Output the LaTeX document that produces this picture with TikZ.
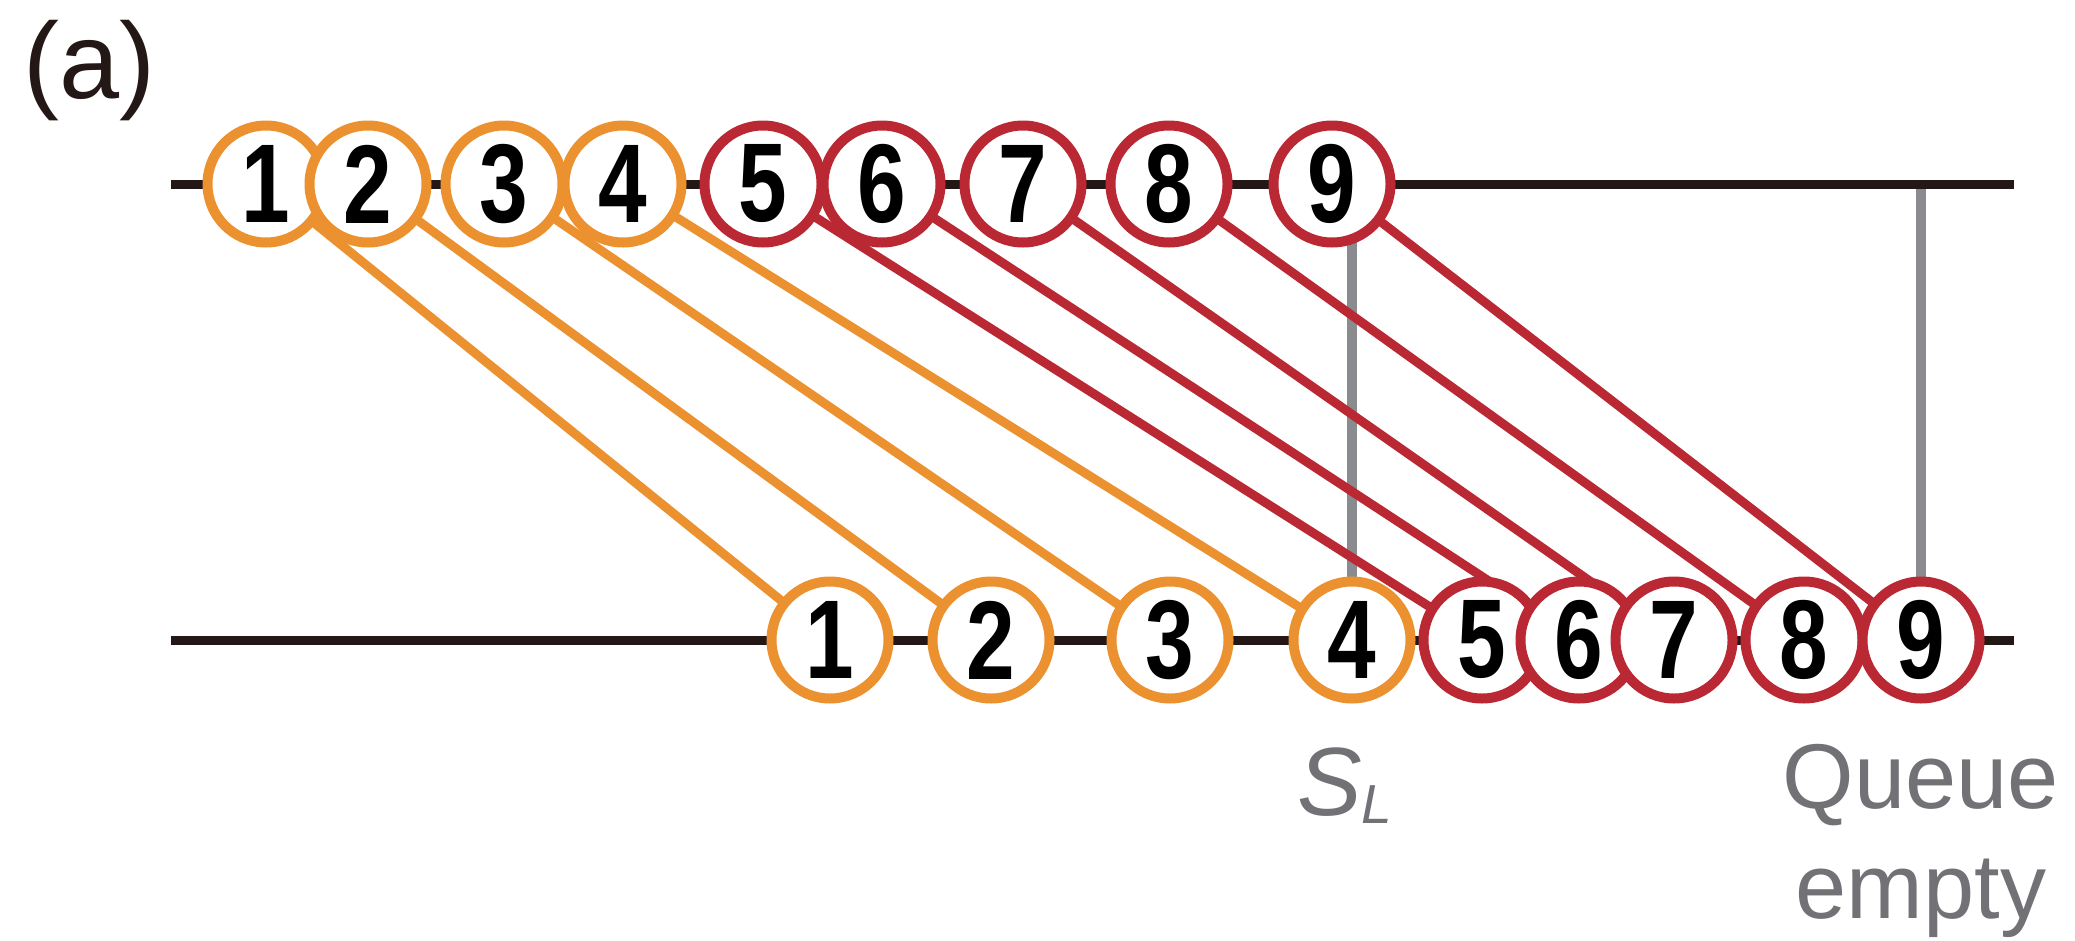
\documentclass[tikz,border=0pt]{standalone}
\usepackage{fontspec}
\setmainfont{Liberation Sans}
\usetikzlibrary{backgrounds}
\definecolor{qorange}{HTML}{EC912F}
\definecolor{qred}{HTML}{B92833}
\definecolor{qblack}{HTML}{231815}
\definecolor{qgray}{HTML}{8A8B8E}
\definecolor{qtext}{HTML}{727175}
\newcommand{\pktnum}[1]{\scalebox{0.78}[1]{#1}}
\begin{document}
\begin{tikzpicture}[x=1pt,y=-1pt,
  pkt/.style={circle, fill=white, line width=10pt, minimum size=117pt, inner sep=0pt,
    font=\fontsize{112}{112}\selectfont\bfseries},
  timeline/.style={qblack, line width=9pt},
  marker/.style={qgray, line width=10pt},
  link/.style={line width=9pt},
  lbl/.style={text=qtext, inner sep=0pt, anchor=base}
]
\useasboundingbox (0,0) rectangle (2075,940);
% packets sent (top) and received (bottom)
\foreach \i/\x/\c in {1/266/qorange,2/368/qorange,3/504/qorange,4/623/qorange,
  5/763/qred,6/882/qred,7/1023/qred,8/1169/qred,9/1332/qred}
  \node[pkt, draw=\c] (t\i) at (\x,184) {\pktnum{\i}};
\foreach \i/\x/\c in {1/830/qorange,2/991/qorange,3/1170/qorange,4/1352/qorange,
  5/1482/qred,6/1579/qred,7/1674/qred,8/1804/qred,9/1921/qred}
  \node[pkt, draw=\c] (b\i) at (\x,640) {\pktnum{\i}};
\coordinate (tL) at (171,184);
\coordinate (tR) at (2014,184);
\coordinate (bL) at (171,640);
\coordinate (bR) at (2014,640);
\begin{pgfonlayer}{background}
  \draw[marker] (b4 |- tR) -- (b4.center);
  \draw[marker] (b9 |- tR) -- (b9.center);
  \draw[timeline] (tL) -- (tR);
  \draw[timeline] (bL) -- (bR);
  \foreach \i/\c in {1/qorange,2/qorange,3/qorange,4/qorange,
    5/qred,6/qred,7/qred,8/qred,9/qred}
    \draw[link, \c] (t\i.center) -- (b\i.center);
\end{pgfonlayer}
% labels
\node[anchor=base west, inner sep=0pt, text=qblack] (lab) at (23,98)
  {\fontsize{108}{108}\selectfont (a)};
\node[lbl, anchor=base west] (sl) at (1297,815)
  {\fontsize{97}{97}\selectfont\itshape S\raisebox{-8pt}{\fontsize{55}{55}\selectfont L}};
\node[lbl] (q1) at (1921,808) {\fontsize{92}{92}\selectfont Queue};
\node[lbl] (q2) at (1921,918) {\fontsize{92}{92}\selectfont empty};
\end{tikzpicture}
\end{document}
